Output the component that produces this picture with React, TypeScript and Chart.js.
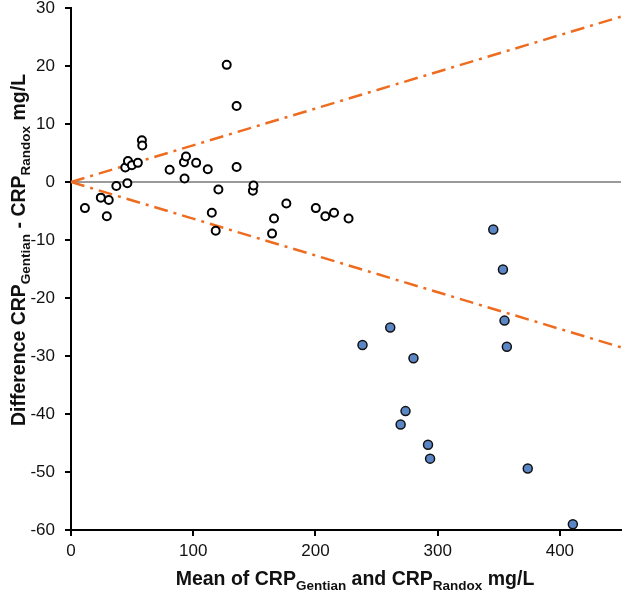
import React, { useEffect, useRef } from "react";
import { Chart, registerables } from "chart.js";

Chart.register(...registerables);

// Open circles
const openX = [11.4, 24.4, 29.3, 30.9, 37.1, 44.4, 46.1, 46.6, 49.8, 54.7, 58.0, 58.3, 80.7, 92.4, 92.9, 94.1, 102.4, 111.9, 115.2, 118.4, 120.6, 127.4, 135.5, 135.5, 148.8, 149.3, 164.5, 166.1, 176.2, 200.3, 208.1, 215.2, 227.1];
const openY = [-4.5, -2.7, -5.9, -3.1, -0.7, 2.5, -0.2, 3.6, 2.9, 3.3, 7.2, 6.3, 2.1, 3.4, 0.6, 4.4, 3.3, 2.2, -5.3, -8.4, -1.3, 20.2, 13.1, 2.6, -1.5, -0.6, -8.9, -6.3, -3.7, -4.5, -5.9, -5.3, -6.3];

// Filled blue circles
const filledX = [238.5, 261.2, 269.7, 273.7, 280.2, 292.1, 293.8, 345.5, 353.4, 354.7, 356.6, 373.7, 410.6];
const filledY = [-28.1, -25.1, -41.8, -39.5, -30.4, -45.3, -47.7, -8.2, -15.1, -23.9, -28.4, -49.4, -59.0];

// Limit lines and zero line
const limitX = [0, 450];
const upperY = [0, 28.5];
const lowerY = [0, -28.5];
const zeroY = [0, 0];

const xTicks = [0, 100, 200, 300, 400];
const yTicks = [-60, -50, -40, -30, -20, -10, 0, 10, 20, 30];

const FONT = "'Liberation Sans', Arial, sans-serif";

const xTitle = [
  { t: "Mean of CRP", sub: false },
  { t: "Gentian", sub: true },
  { t: " and CRP", sub: false },
  { t: "Randox", sub: true },
  { t: " mg/L", sub: false },
];
const yTitle = [
  { t: "Difference CRP", sub: false },
  { t: "Gentian", sub: true },
  { t: " - CRP", sub: false },
  { t: "Randox", sub: true },
  { t: " mg/L", sub: false },
];

function drawRich(ctx: CanvasRenderingContext2D, segs: { t: string; sub: boolean }[], cx: number, baseY: number) {
  const mainFont = `bold 19.5px ${FONT}`;
  const subFont = `bold 13.5px ${FONT}`;
  let total = 0;
  for (const s of segs) {
    ctx.font = s.sub ? subFont : mainFont;
    total += ctx.measureText(s.t).width;
  }
  let x = cx - total / 2;
  ctx.textAlign = "left";
  ctx.textBaseline = "alphabetic";
  for (const s of segs) {
    ctx.font = s.sub ? subFont : mainFont;
    ctx.fillText(s.t, x, baseY + (s.sub ? 5 : 0));
    x += ctx.measureText(s.t).width;
  }
}

const titlePlugin = {
  id: "richTitles",
  afterDraw(chart: any) {
    const ctx = chart.ctx as CanvasRenderingContext2D;
    ctx.save();
    ctx.fillStyle = "#111";
    drawRich(ctx, xTitle, 355, 585);
    ctx.translate(25, 250);
    ctx.rotate(-Math.PI / 2);
    drawRich(ctx, yTitle, 0, 0);
    ctx.restore();
  },
};

export default function App() {
  const ref = useRef<HTMLCanvasElement | null>(null);
  useEffect(() => {
    document.body.style.margin = "0";
    if (!ref.current) return;
    const toPts = (xs: number[], ys: number[]) => xs.map((x, i) => ({ x, y: ys[i] }));
    const chart = new Chart(ref.current, {
      type: "scatter",
      data: {
        datasets: [
          {
            label: "open",
            data: toPts(openX, openY),
            pointRadius: 4,
            pointBorderWidth: 2,
            pointBackgroundColor: "#ffffff",
            pointBorderColor: "#000000",
            showLine: false,
          },
          {
            label: "filled",
            data: toPts(filledX, filledY),
            pointRadius: 4.5,
            pointBorderWidth: 1.5,
            pointBackgroundColor: "#5b86c5",
            pointBorderColor: "#111111",
            showLine: false,
          },
          {
            label: "upper",
            data: toPts(limitX, upperY),
            showLine: true,
            pointRadius: 0,
            borderColor: "#ee6c1f",
            borderWidth: 2.5,
            borderDash: [14, 6, 3, 6],
          },
          {
            label: "lower",
            data: toPts(limitX, lowerY),
            showLine: true,
            pointRadius: 0,
            borderColor: "#ee6c1f",
            borderWidth: 2.5,
            borderDash: [14, 6, 3, 6],
          },
          {
            label: "zero",
            data: toPts(limitX, zeroY),
            showLine: true,
            pointRadius: 0,
            borderColor: "#9a9a9a",
            borderWidth: 2,
          },
        ],
      },
      options: {
        animation: false,
        responsive: true,
        maintainAspectRatio: false,
        layout: { padding: { top: 8, right: 0, left: 0, bottom: 0 } },
        plugins: { legend: { display: false }, tooltip: { enabled: false }, title: { display: false } },
        scales: {
          x: {
            type: "linear",
            min: 0,
            max: 450,
            afterBuildTicks: (s: any) => {
              s.ticks = xTicks.map((v) => ({ value: v }));
            },
            afterFit: (s: any) => {
              s.height = 64;
              s.paddingLeft = 0;
              s.paddingRight = 0;
            },
            ticks: { font: { family: FONT, size: 17 }, color: "#111", padding: 5, maxRotation: 0 },
            grid: { drawOnChartArea: false, drawTicks: true, tickLength: 6, color: "#000", lineWidth: 2 },
            border: { display: true, color: "#000", width: 2 },
          },
          y: {
            type: "linear",
            min: -60,
            max: 30,
            afterBuildTicks: (s: any) => {
              s.ticks = yTicks.map((v) => ({ value: v }));
            },
            afterFit: (s: any) => {
              s.width = 71;
              s.paddingTop = 0;
              s.paddingBottom = 0;
            },
            ticks: { font: { family: FONT, size: 17 }, color: "#111", padding: 10 },
            grid: { drawOnChartArea: false, drawTicks: true, tickLength: 6, color: "#000", lineWidth: 2 },
            border: { display: true, color: "#000", width: 2 },
          },
        },
      },
      plugins: [titlePlugin],
    });
    return () => chart.destroy();
  }, []);
  return (
    <div style={{ position: "relative", width: 627, height: 594, background: "#fff" }}>
      <canvas ref={ref} />
    </div>
  );
}
